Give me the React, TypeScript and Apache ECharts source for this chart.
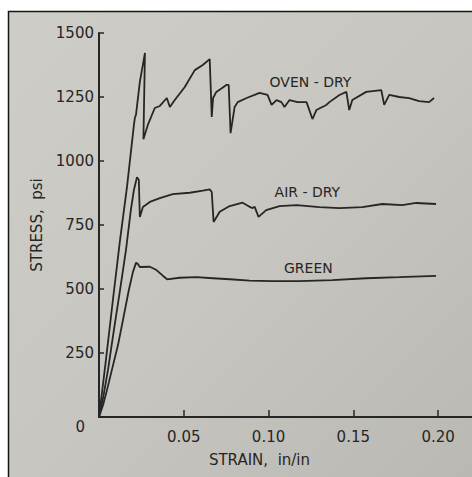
import React, { useEffect, useRef } from "react";
import * as echarts from "echarts";

const ovenDryStrain = [0, 0.0041, 0.0082, 0.0124, 0.0165, 0.0206, 0.0212, 0.0218, 0.0241, 0.0271, 0.0262, 0.0288, 0.0329, 0.0359, 0.04, 0.0418, 0.0447, 0.0506, 0.0565, 0.0612, 0.0653, 0.0665, 0.0673, 0.0692, 0.0722, 0.0751, 0.0765, 0.0776, 0.08, 0.0818, 0.0871, 0.0947, 0.0994, 0.1018, 0.1047, 0.1076, 0.1094, 0.1124, 0.1171, 0.1224, 0.1259, 0.1282, 0.1341, 0.1359, 0.1418, 0.1459, 0.1476, 0.1494, 0.1576, 0.1665, 0.1682, 0.1712, 0.1771, 0.1829, 0.1888, 0.1947, 0.1976];
const ovenDryStress = [0, 223, 457, 691, 898, 1141, 1170, 1180, 1309, 1422, 1085, 1141, 1207, 1215, 1246, 1211, 1238, 1289, 1355, 1375, 1398, 1172, 1246, 1270, 1283, 1297, 1297, 1109, 1211, 1230, 1246, 1266, 1258, 1219, 1238, 1230, 1211, 1238, 1230, 1230, 1164, 1199, 1219, 1230, 1258, 1270, 1199, 1238, 1270, 1277, 1219, 1258, 1250, 1246, 1234, 1230, 1246];

const airDryStrain = [0, 0.0024, 0.0053, 0.0088, 0.0124, 0.0159, 0.0188, 0.0206, 0.0224, 0.0235, 0.0238, 0.0241, 0.0259, 0.03, 0.0359, 0.0435, 0.0535, 0.0612, 0.0653, 0.0665, 0.0676, 0.0712, 0.0771, 0.0847, 0.0888, 0.0906, 0.0918, 0.0941, 0.0986, 0.1065, 0.1165, 0.13, 0.1418, 0.1553, 0.1671, 0.1788, 0.1871, 0.1988];
const airDryStress = [0, 74, 184, 340, 496, 652, 809, 887, 937, 926, 848, 781, 820, 840, 855, 871, 876, 884, 889, 879, 762, 802, 824, 837, 821, 816, 821, 782, 808, 824, 828, 820, 816, 820, 832, 828, 836, 832];

const greenStrain = [0, 0.0024, 0.0047, 0.0076, 0.0112, 0.0147, 0.0176, 0.02, 0.0218, 0.0229, 0.0241, 0.03, 0.0339, 0.0378, 0.0402, 0.0476, 0.0575, 0.0672, 0.0771, 0.0888, 0.1024, 0.1182, 0.1376, 0.1576, 0.1771, 0.1988];
const greenStress = [0, 47, 105, 184, 281, 398, 496, 566, 602, 598, 586, 587, 574, 551, 538, 544, 546, 542, 538, 533, 531, 531, 535, 542, 546, 551];

const seriesNames = ["OVEN - DRY", "AIR - DRY", "GREEN"];
const labelStrain = [0.1247, 0.1229, 0.1235];
const labelStress = [1309, 879, 582];

const xTickValues = [0.05, 0.1, 0.15, 0.2];
const xTickLabels = ["0.05", "0.10", "0.15", "0.20"];

const INK = "#262626";
const FONT = "DejaVu Sans";

function zip(xs: number[], ys: number[]) {
  return xs.map((x, i) => [x, ys[i]]);
}

export default function App() {
  const ref = useRef<HTMLDivElement>(null);
  useEffect(() => {
    if (!ref.current) return;
    const chart = echarts.init(ref.current, null, { renderer: "svg" });
    const datasets = [
      zip(ovenDryStrain, ovenDryStress),
      zip(airDryStrain, airDryStress),
      zip(greenStrain, greenStress),
    ];
    chart.setOption({
      animation: false,
      backgroundColor: "#ffffff",
      graphic: [
        {
          type: "rect",
          z: -10,
          silent: true,
          shape: { x: 8.5, y: 11.5, width: 470, height: 470 },
          style: {
            fill: new echarts.graphic.LinearGradient(0, 0, 1, 1, [
              { offset: 0, color: "#cfcdc7" },
              { offset: 0.5, color: "#c8c6c0" },
              { offset: 1, color: "#bab8b2" },
            ]),
            stroke: "#151515",
            lineWidth: 1.5,
          },
        },
      ],
      grid: { left: 99, right: 0, top: 33, bottom: 60, containLabel: false },
      xAxis: {
        type: "value",
        min: 0,
        max: 0.22,
        interval: 0.05,
        splitLine: { show: false },
        axisLine: { show: true, onZero: false, lineStyle: { color: INK, width: 2 } },
        axisTick: { show: true, inside: true, length: 7, lineStyle: { color: INK, width: 1.5 } },
        axisLabel: {
          margin: 12,
          color: INK,
          fontFamily: FONT,
          fontSize: 15,
          showMaxLabel: false,
          formatter: (v: number) => {
            const i = xTickValues.findIndex((t) => Math.abs(t - v) < 1e-6);
            return i >= 0 ? xTickLabels[i] : "";
          },
        },
        name: "STRAIN,  in/in",
        nameLocation: "middle",
        nameGap: 35,
        nameTextStyle: { color: INK, fontFamily: FONT, fontSize: 15, padding: [0, 52, 0, 0] },
      },
      yAxis: {
        type: "value",
        min: 0,
        max: 1500,
        interval: 250,
        splitLine: { show: false },
        axisLine: { show: true, lineStyle: { color: INK, width: 2 } },
        axisTick: { show: true, inside: true, length: 5, lineStyle: { color: INK, width: 1.5 } },
        axisLabel: {
          margin: 5,
          color: INK,
          fontFamily: FONT,
          fontSize: 15,
          formatter: (v: number) => (v === 0 ? "{z|0}" : String(v)),
          rich: { z: { fontFamily: FONT, fontSize: 15, color: INK, padding: [20, 9, 0, 0] } },
        },
        name: "STRESS,  psi",
        nameLocation: "middle",
        nameGap: 55,
        nameTextStyle: { color: INK, fontFamily: FONT, fontSize: 15 },
      },
      series: datasets.map((d, i) => ({
        type: "line",
        name: seriesNames[i],
        data: d,
        showSymbol: false,
        symbol: "none",
        lineStyle: { color: INK, width: 1.8 },
        markPoint: {
          symbol: "circle",
          symbolSize: 0,
          silent: true,
          data: [
            {
              coord: [labelStrain[i], labelStress[i]],
              label: {
                show: true,
                position: "inside",
                formatter: seriesNames[i],
                color: INK,
                fontFamily: FONT,
                fontSize: 14,
              },
            },
          ],
        },
      })),
    });
    return () => chart.dispose();
  }, []);
  return <div ref={ref} style={{ position: "fixed", left: 0, top: 0, width: 472, height: 477 }} />;
}
